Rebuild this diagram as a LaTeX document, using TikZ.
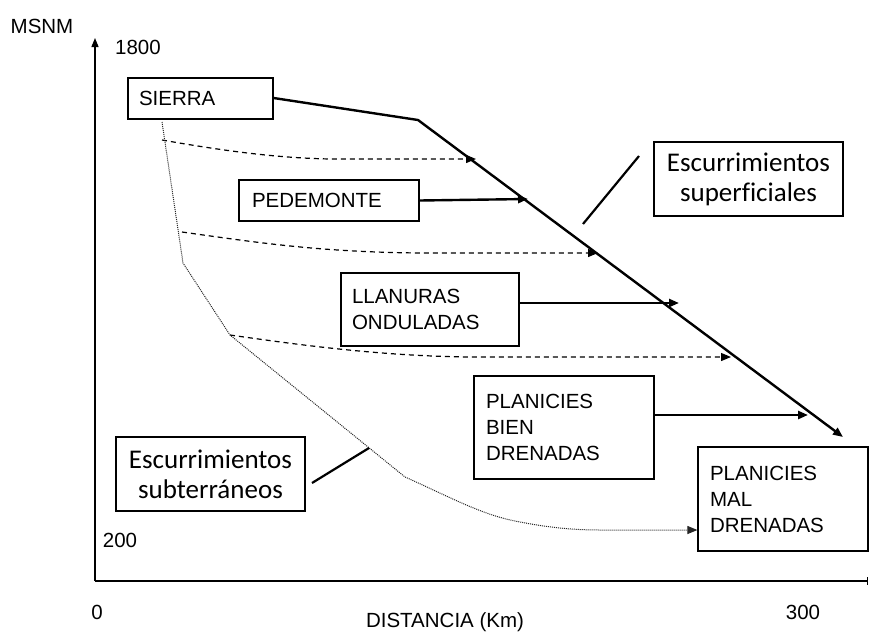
\documentclass[tikz,border=0pt]{standalone}
\usepackage{fontspec}
\setmainfont{Liberation Sans}
\newfontfamily\calibri[Ligatures=NoCommon]{Carlito}
\usetikzlibrary{arrows.meta}
\begin{document}
\begin{tikzpicture}[x=1pt,y=-1pt,
  lbl/.style={font=\fontsize{20.5}{26}\selectfont, inner sep=0pt},
  zone/.style={draw, line width=1.2pt, font=\fontsize{20.5}{26}\selectfont,
    align=left, inner ysep=0pt},
  runoff/.style={draw, line width=2.3pt, font=\calibri\fontsize{27}{30}\selectfont,
    align=center, inner sep=0pt, minimum width=189pt, minimum height=74pt},
  tip/.style={-{Triangle[length=10pt,width=8pt]}},
  surf/.style={tip, line width=2.4pt},
  flow/.style={tip, line width=1.2pt, dash pattern=on 5pt off 4pt},
  under/.style={tip, line width=1pt, densely dotted, black!85},
  leader/.style={line width=2.2pt},
  axis/.style={line width=1.3pt}]
\useasboundingbox (0,0) rectangle (869,632);

% axes
\coordinate (O) at (95,581);
\coordinate (ytop) at (95,38);
\coordinate (xend) at (868,581);
\draw[axis, -{Triangle[length=9pt,width=7pt]}] (O) -- (ytop);
\draw[axis, -{Bar[width=8pt]}] (O) -- (xend);
\node[lbl] (msnm) at (42,26) {MSNM};
\node[lbl] (ymax) at (138,47) {1800};
\node[lbl] (ymin) at (120,540) {200};
\node[lbl] (xmin) at (97,612) {0};
\node[lbl] (xmax) at (803,612) {300};
\node[lbl] (xlab) at (445,622) {DISTANCIA (Km)};

% landform zones
\node[zone, text width=123pt, inner xsep=11pt, minimum height=41pt] (sierra) at (200.5,98.5) {SIERRA};
\node[zone, text width=154pt, inner xsep=13pt, minimum height=41pt] (pede) at (329,200.5) {PEDEMONTE};
\node[zone, text width=156pt, inner xsep=11pt, minimum height=73pt] (llan) at (430,309.5) {LLANURAS\\ONDULADAS};
\node[zone, text width=156pt, inner xsep=12pt, minimum height=103pt] (pbien) at (564,427.5) {PLANICIES\\BIEN\\DRENADAS};
\node[zone, text width=146pt, inner xsep=12pt, minimum height=104pt] (pmal) at (783,499) {PLANICIES\\MAL\\DRENADAS};

% runoff labels
\node[runoff] (esup) at (748.5,179) {Escurrimientos\\superficiales};
\node[runoff] (esub) at (210.5,474) {Escurrimientos\\subterráneos};

% surface runoff profile
\coordinate (bend) at (418,120);
\coordinate (send) at (843,437);
\draw[surf, line join=round] (sierra.east |- 0,98) -- (bend) -- (send);

% flows from each zone onto the profile
\coordinate (t1) at (528,199);
\coordinate (t2) at (679,303);
\coordinate (t3) at (808,415);
\draw[surf] (pede.east) -- (t1);
\draw[surf] (llan.east |- t2) -- (t2);
\draw[surf] (pbien.east |- t3) -- (t3);

% subsurface seepage (dashed)
\coordinate (d1s) at (162,140);
\coordinate (d1e) at (476,159);
\coordinate (d2s) at (182,232);
\coordinate (d2e) at (598,253);
\coordinate (d3s) at (230,335);
\coordinate (d3e) at (731,357);
\draw[flow] (d1s) .. controls (230,152) and (280,158) .. (330,159) -- (d1e);
\draw[flow] (d2s) .. controls (260,243) and (320,252) .. (420,253) -- (d2e);
\draw[flow] (d3s) .. controls (300,345) and (380,356) .. (470,357) -- (d3e);

% groundwater path (dotted)
\coordinate (g0) at (162,122);
\draw[under] (g0) -- (183,263) -- (d3s) -- (405,477)
  .. controls (450,497) and (480,514) .. (515,521)
  .. controls (545,527) and (570,530) .. (600,530) -- (pmal.west |- 0,530);

% leader lines
\coordinate (la1) at (583,224);
\coordinate (la2) at (639,156);
\coordinate (lb1) at (312,483);
\coordinate (lb2) at (369,448);
\draw[leader] (la1) -- (la2);
\draw[leader] (lb1) -- (lb2);
\end{tikzpicture}
\end{document}
